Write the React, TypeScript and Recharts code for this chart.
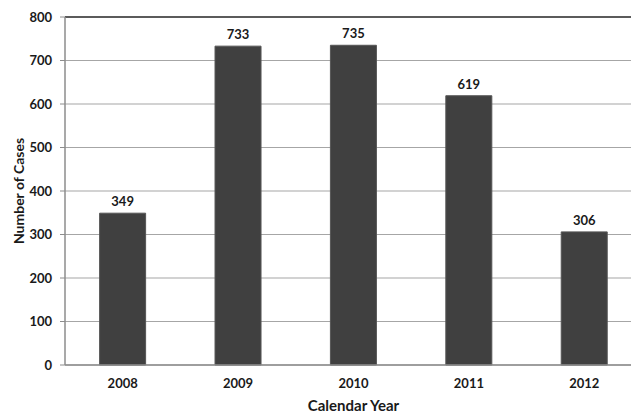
import { Bar, BarChart, CartesianGrid, LabelList, ReferenceLine, XAxis, YAxis } from "recharts";

const years = ["2008", "2009", "2010", "2011", "2012"];
const cases = [349, 733, 735, 619, 306];
const yTicks = [0, 100, 200, 300, 400, 500, 600, 700, 800];

const data = years.map((year, i) => ({ year, cases: cases[i] }));

const FONT = "Lato, 'Open Sans', sans-serif";
const tickStyle = { fontFamily: FONT, fontSize: 13, fontWeight: 700, fill: "#1a1a1a" };

if (typeof document !== "undefined") document.body.style.margin = "0";

function YTitle({ viewBox }: any) {
  const cx = viewBox.x + 18;
  const cy = viewBox.y + viewBox.height / 2;
  return (
    <text
      x={cx}
      y={cy}
      transform={`rotate(-90 ${cx} ${cy})`}
      textAnchor="middle"
      dominantBaseline="central"
      style={{ fontFamily: FONT, fontSize: 14, fontWeight: 700, fill: "#1a1a1a" }}
    >
      Number of Cases
    </text>
  );
}

function XTitle({ viewBox }: any) {
  const cx = viewBox.x + viewBox.width / 2;
  const cy = viewBox.y + 40;
  return (
    <text
      x={cx}
      y={cy}
      textAnchor="middle"
      dominantBaseline="central"
      style={{ fontFamily: FONT, fontSize: 15, fontWeight: 700, fill: "#1a1a1a" }}
    >
      Calendar Year
    </text>
  );
}

export default function App() {
  return (
    <div style={{ width: 631, height: 413, overflow: "hidden", background: "#fff" }}>
      <BarChart
        width={643}
        height={413}
        data={data}
        margin={{ top: 17, right: 1, bottom: 0, left: 0 }}
        barCategoryGap="30%"
      >
        <CartesianGrid vertical={false} stroke="#a6a6a6" strokeWidth={1.2} />
        <ReferenceLine y={800} stroke="#333" strokeWidth={1.5} />
        <XAxis
          dataKey="year"
          height={48}
          tickLine={false}
          tickSize={0}
          tickMargin={14}
          axisLine={{ stroke: "#8c8c8c", strokeWidth: 1.5 }}
          tick={tickStyle}
          label={<XTitle />}
        />
        <YAxis
          width={65}
          domain={[0, 800]}
          ticks={yTicks}
          interval={0}
          tickSize={5}
          tickMargin={8}
          tickLine={{ stroke: "#8c8c8c" }}
          axisLine={{ stroke: "#8c8c8c", strokeWidth: 1.5 }}
          tick={tickStyle}
          label={<YTitle />}
        />
        <Bar dataKey="cases" fill="#404040" stroke="#555" strokeWidth={1} isAnimationActive={false}>
          <LabelList
            dataKey="cases"
            position="top"
            offset={7}
            style={{ fontFamily: FONT, fontSize: 13, fontWeight: 700, fill: "#1a1a1a" }}
          />
        </Bar>
      </BarChart>
    </div>
  );
}
